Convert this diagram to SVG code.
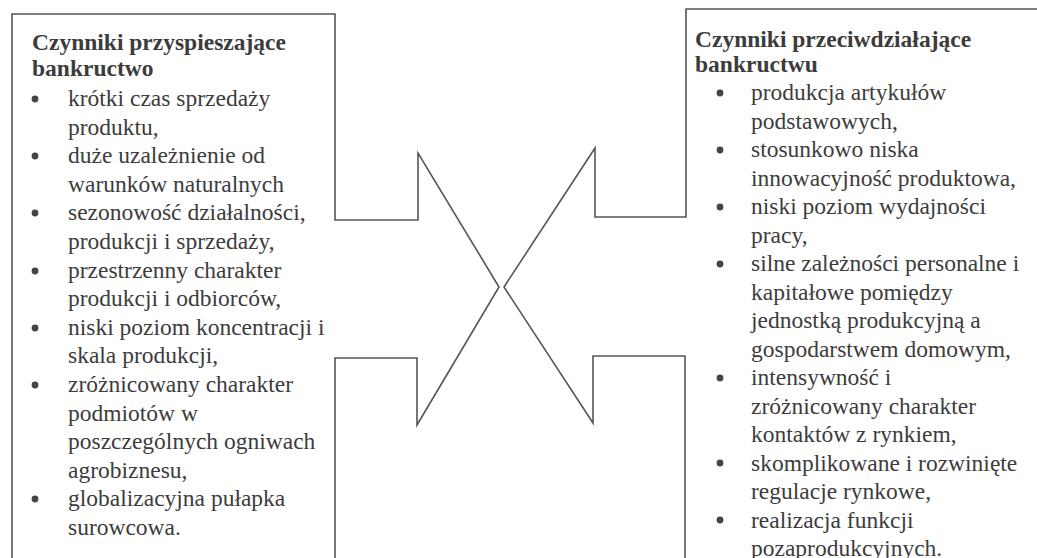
<svg xmlns="http://www.w3.org/2000/svg" width="1037" height="558" viewBox="0 0 1037 558">
<style>
.box{fill:none;stroke:#555;stroke-width:1.6;stroke-linejoin:miter}
.h{font-family:"Liberation Serif","Times New Roman",serif;font-weight:bold;font-size:23.5px;fill:#3c3c3c}
.t{font-family:"Liberation Serif","Times New Roman",serif;font-size:23.5px;fill:#3c3c3c}
.b{fill:#444}
</style>
<rect width="1037" height="558" fill="#fff"/>
<g id="left-node">
<path class="box" d="M12,560 L12,14 L335,14 L335,220 L418,220 L418,153 L499,287 L417,425 L417,358 L335,358 L335,560"/>
<text class="h" x="32" y="50">Czynniki przyspieszające</text>
<text class="h" x="32" y="76">bankructwo</text>
<g class="b">
<circle cx="35" cy="99" r="3.4"/>
<circle cx="35" cy="156" r="3.4"/>
<circle cx="35" cy="213" r="3.4"/>
<circle cx="35" cy="271" r="3.4"/>
<circle cx="35" cy="328" r="3.4"/>
<circle cx="35" cy="385" r="3.4"/>
<circle cx="35" cy="499" r="3.4"/>
</g>
<text class="t" x="68" y="106">krótki czas sprzedaży</text>
<text class="t" x="68" y="134.6">produktu,</text>
<text class="t" x="68" y="163.2">duże uzależnienie od</text>
<text class="t" x="68" y="191.8">warunków naturalnych</text>
<text class="t" x="68" y="220.4">sezonowość działalności,</text>
<text class="t" x="68" y="249">produkcji i sprzedaży,</text>
<text class="t" x="68" y="277.6">przestrzenny charakter</text>
<text class="t" x="68" y="306.2">produkcji i odbiorców,</text>
<text class="t" x="68" y="334.8">niski poziom koncentracji i</text>
<text class="t" x="68" y="363.4">skala produkcji,</text>
<text class="t" x="68" y="392">zróżnicowany charakter</text>
<text class="t" x="68" y="420.6">podmiotów w</text>
<text class="t" x="68" y="449.2">poszczególnych ogniwach</text>
<text class="t" x="68" y="477.8">agrobiznesu,</text>
<text class="t" x="68" y="506.4">globalizacyjna pułapka</text>
<text class="t" x="68" y="535">surowcowa.</text>
</g>
<g id="right-node">
<path class="box" d="M1040,9 L686,9 L686,217 L595,217 L595,148 L504,287 L593,423 L593,356 L685,356 L685,560"/>
<text class="h" x="695" y="47">Czynniki przeciwdziałające</text>
<text class="h" x="695" y="72">bankructwu</text>
<g class="b">
<circle cx="720" cy="93" r="3.4"/>
<circle cx="720" cy="150" r="3.4"/>
<circle cx="720" cy="207" r="3.4"/>
<circle cx="720" cy="264" r="3.4"/>
<circle cx="720" cy="378" r="3.4"/>
<circle cx="720" cy="463" r="3.4"/>
<circle cx="720" cy="520" r="3.4"/>
</g>
<text class="t" x="751" y="100">produkcja artykułów</text>
<text class="t" x="751" y="128.5">podstawowych,</text>
<text class="t" x="751" y="157">stosunkowo niska</text>
<text class="t" x="751" y="185.5">innowacyjność produktowa,</text>
<text class="t" x="751" y="214">niski poziom wydajności</text>
<text class="t" x="751" y="242.5">pracy,</text>
<text class="t" x="751" y="271">silne zależności personalne i</text>
<text class="t" x="751" y="299.5">kapitałowe pomiędzy</text>
<text class="t" x="751" y="328">jednostką produkcyjną a</text>
<text class="t" x="751" y="356.5">gospodarstwem domowym,</text>
<text class="t" x="751" y="385">intensywność i</text>
<text class="t" x="751" y="413.5">zróżnicowany charakter</text>
<text class="t" x="751" y="442">kontaktów z rynkiem,</text>
<text class="t" x="751" y="470.5">skomplikowane i rozwinięte</text>
<text class="t" x="751" y="499">regulacje rynkowe,</text>
<text class="t" x="751" y="527.5">realizacja funkcji</text>
<text class="t" x="751" y="556">pozaprodukcyjnych.</text>
</g>
<g id="connectors"></g>
</svg>
